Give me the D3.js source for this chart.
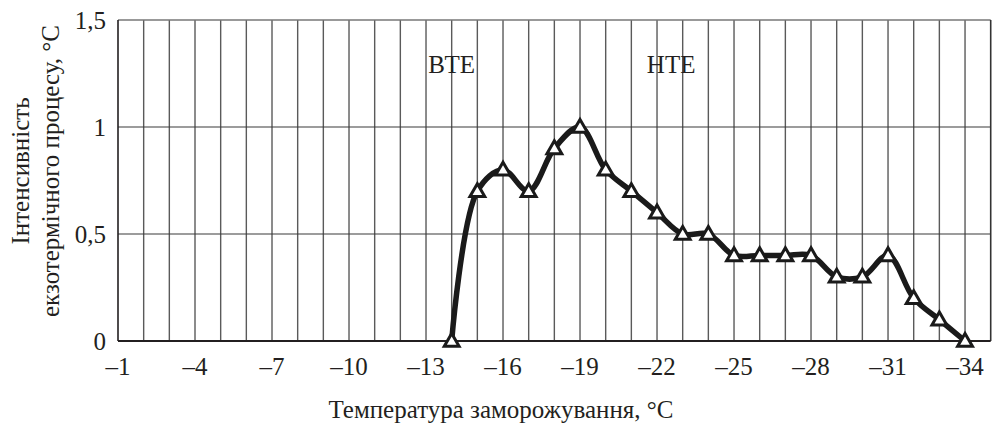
<!DOCTYPE html>
<html><head><meta charset="utf-8">
<script src="https://cdn.jsdelivr.net/npm/d3@7"></script>
<style>body{margin:0;background:#fff}svg{display:block}text{font-family:"Liberation Serif","Times New Roman",serif;fill:#231f20}</style>
</head><body><svg id="c" width="992" height="425"></svg>
<script>
const temps = [-14,-15,-16,-17,-18,-19,-20,-21,-22,-23,-24,-25,-26,-27,-28,-29,-30,-31,-32,-33,-34];
const intensity = [0,0.7,0.8,0.7,0.9,1.0,0.8,0.7,0.6,0.5,0.5,0.4,0.4,0.4,0.4,0.3,0.3,0.4,0.2,0.1,0];
const xTicks = [-1,-4,-7,-10,-13,-16,-19,-22,-25,-28,-31,-34];
const yTicks = [0,0.5,1,1.5];
const yTickLabels = ["0","0,5","1","1,5"];
const zoneLabels = [{t:"ВТЕ",x:-14},{t:"НТЕ",x:-22.55}];

const svg = d3.select("#c");
const L=118,R=990.7,T=20,B=341;
const x = d3.scaleLinear().domain([-1,-35]).range([L,R]);
const y = d3.scaleLinear().domain([0,1.5]).range([B,T]);

// vertical grid
svg.append("g").selectAll("line").data(d3.range(-2,-35,-1)).join("line")
  .attr("x1",d=>x(d)).attr("x2",d=>x(d)).attr("y1",T).attr("y2",B)
  .attr("stroke","#5a5a5a").attr("stroke-width",1.4);
// horizontal grid
svg.append("g").selectAll("line").data([0.5,1]).join("line")
  .attr("x1",L).attr("x2",R).attr("y1",d=>y(d)).attr("y2",d=>y(d))
  .attr("stroke","#3a3a3a").attr("stroke-width",1.2);
svg.append("line").attr("x1",L).attr("x2",R).attr("y1",T).attr("y2",T).attr("stroke","#777").attr("stroke-width",1.6);
svg.append("line").attr("x1",R).attr("x2",R).attr("y1",T).attr("y2",B).attr("stroke","#333").attr("stroke-width",1.6);
// axes lines
svg.append("line").attr("x1",L).attr("x2",L).attr("y1",T).attr("y2",B).attr("stroke","#231f20").attr("stroke-width",1.6);
svg.append("line").attr("x1",L).attr("x2",R).attr("y1",B).attr("y2",B).attr("stroke","#231f20").attr("stroke-width",2);

// tick labels
svg.append("g").selectAll("text").data(xTicks).join("text")
  .attr("x",d=>x(d)).attr("y",375).attr("text-anchor","middle").attr("font-size",25)
  .text(d=>"–"+Math.abs(d));
svg.append("g").selectAll("text").data(yTicks).join("text")
  .attr("x",106).attr("y",d=>y(d)+9).attr("text-anchor","end").attr("font-size",25)
  .text((d,i)=>yTickLabels[i]);

// zone labels
svg.append("g").selectAll("text").data(zoneLabels).join("text")
  .attr("x",d=>x(d.x)).attr("y",73).attr("text-anchor","middle").attr("font-size",25)
  .text(d=>d.t);

// titles
svg.append("text").attr("x",501).attr("y",418).attr("text-anchor","middle").attr("font-size",25)
  .text("Температура заморожування, °С");
const yt = svg.append("text").attr("transform","translate(0,171) rotate(-90)").attr("text-anchor","middle").attr("font-size",25);
yt.append("tspan").attr("x",0).attr("y",29).text("Інтенсивність");
yt.append("tspan").attr("x",0).attr("y",59).text("екзотермічного процесу, °С");

// line
const data = temps.map((t,i)=>({t,v:intensity[i]}));
svg.append("path").datum(data)
  .attr("d",d3.line().x(d=>x(d.t)).y(d=>y(d.v)).curve(d3.curveCatmullRom.alpha(0.5)))
  .attr("fill","none").attr("stroke","#1a1a1a").attr("stroke-width",5.5).attr("stroke-linejoin","round");
// markers
const sym = d3.symbol().type(d3.symbolTriangle).size(95);
svg.append("g").selectAll("path").data(data).join("path")
  .attr("transform",d=>`translate(${x(d.t)},${y(d.v)+1})`).attr("d",sym)
  .attr("fill","#fff").attr("stroke","#1a1a1a").attr("stroke-width",3);
</script></body></html>
